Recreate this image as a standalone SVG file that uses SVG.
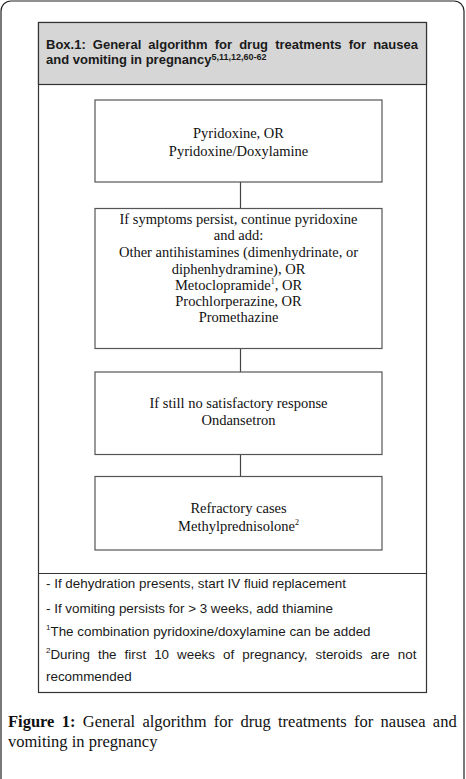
<svg xmlns="http://www.w3.org/2000/svg" width="466" height="779" viewBox="0 0 466 779">
<style>
.frame{fill:#fff;stroke:#222;stroke-width:1.2}
.main{fill:#fff;stroke:#333;stroke-width:1.2}
.hdr{fill:#d6d6d6;stroke:#333;stroke-width:1.2}
.node{fill:#fff;stroke:#555;stroke-width:1.2}
.conn{stroke:#444;stroke-width:1.2;fill:none}
.t{font-family:"Liberation Serif","Times New Roman",serif;font-size:14.5px;fill:#111;text-anchor:middle}
.h{font-family:"Liberation Sans",Arial,sans-serif;font-size:13px;font-weight:bold;fill:#1a1a1a}
.f{font-family:"Liberation Sans",Arial,sans-serif;font-size:13.4px;fill:#1a1a1a}
.c{font-family:"Liberation Serif","Times New Roman",serif;font-size:16.5px;fill:#111}
</style>
<rect class="frame" x="1" y="1" width="463" height="800" rx="10"/>
<g id="box">
<rect class="main" x="38.5" y="22.5" width="388" height="670"/>
<rect class="hdr" x="38.5" y="22.5" width="388" height="62"/>
<line x1="38.5" y1="573.5" x2="426.5" y2="573.5" stroke="#333" stroke-width="1.2"/>
<text class="h" x="46" y="48.5" word-spacing="3.5">Box.1: General algorithm for drug treatments for nausea</text>
<text class="h" x="46" y="64">and vomiting in pregnancy<tspan font-size="9" dy="-4.5">5,11,12,60-62</tspan></text>
</g>
<g id="connectors">
<line class="conn" x1="240.5" y1="182" x2="240.5" y2="208"/>
<line class="conn" x1="240.5" y1="348" x2="240.5" y2="372"/>
<line class="conn" x1="240.5" y1="454" x2="240.5" y2="476"/>
</g>
<g id="n1">
<rect class="node" x="95" y="100" width="287" height="82"/>
<text class="t" x="238.5" y="137.5">Pyridoxine, OR</text>
<text class="t" x="238.5" y="156">Pyridoxine/Doxylamine</text>
</g>
<g id="n2">
<rect class="node" x="95" y="208.5" width="287" height="140"/>
<text class="t" x="238.5" y="224">If symptoms persist, continue pyridoxine</text>
<text class="t" x="238.5" y="240">and add:</text>
<text class="t" x="238.5" y="257">Other antihistamines (dimenhydrinate, or</text>
<text class="t" x="238.5" y="274">diphenhydramine), OR</text>
<text class="t" x="238.5" y="290">Metoclopramide<tspan font-size="8" dy="-6">1</tspan><tspan dy="6">, OR</tspan></text>
<text class="t" x="238.5" y="306">Prochlorperazine, OR</text>
<text class="t" x="238.5" y="322">Promethazine</text>
</g>
<g id="n3">
<rect class="node" x="95" y="372" width="287" height="82.5"/>
<text class="t" x="238.5" y="408">If still no satisfactory response</text>
<text class="t" x="238.5" y="425">Ondansetron</text>
</g>
<g id="n4">
<rect class="node" x="95" y="476.5" width="287" height="73.5"/>
<text class="t" x="238.5" y="513">Refractory cases</text>
<text class="t" x="238.5" y="531">Methylprednisolone<tspan font-size="8" dy="-6">2</tspan></text>
</g>
<g id="notes">
<text class="f" x="46" y="588.3">- If dehydration presents, start IV fluid replacement</text>
<text class="f" x="46" y="612.5">- If vomiting persists for &gt; 3 weeks, add thiamine</text>
<text class="f" x="46" y="636"><tspan font-size="8" dy="-6">1</tspan><tspan dy="6">The combination pyridoxine/doxylamine can be added</tspan></text>
<text class="f" x="46" y="659.3" word-spacing="4.3"><tspan font-size="8" dy="-6">2</tspan><tspan dy="6">During the first 10 weeks of pregnancy, steroids are not</tspan></text>
<text class="f" x="46" y="680.7">recommended</text>
</g>
<g id="caption">
<text class="c" x="8" y="726.7" word-spacing="3.2"><tspan font-weight="bold">Figure 1:</tspan> General algorithm for drug treatments for nausea and</text>
<text class="c" x="8" y="746.7">vomiting in pregnancy</text>
</g>
</svg>
